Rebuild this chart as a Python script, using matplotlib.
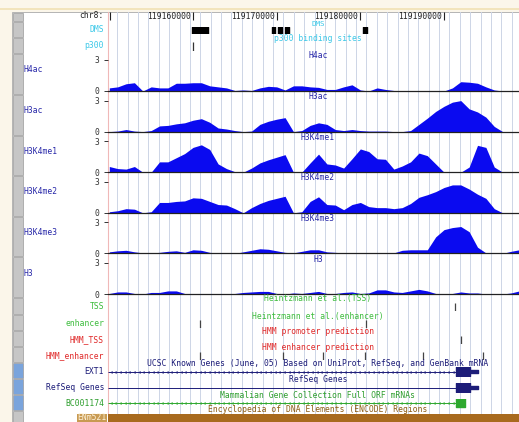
import numpy as np
import matplotlib
matplotlib.use('Agg')
import matplotlib.pyplot as plt
from matplotlib.patches import Rectangle

plt.rcParams['font.family'] = 'DejaVu Sans Mono'
plt.rcParams['font.size'] = 5.8

W, H = 519, 422
X0, X1 = 119149842, 119198957   # genome window shown in the browser

# signal bins every 1 kb, values on the 0-3 scale
pos = 119150000 + 1000 * np.arange(50)
h4ac = [0.3, 0.4, 0.7, 0.8, 0.0, 0.4, 0.3, 0.3, 0.75, 0.75,
        0.8, 0.8, 0.5, 0.4, 0.3, 0.05, 0.1, 0.05, 0.3, 0.45,
        0.4, 0.1, 0.5, 0.5, 0.4, 0.35, 0.15, 0.15, 0.4, 0.6,
        0.1, 0.0, 0.3, 0.15, 0.05, 0.0, 0.0, 0.0, 0.0, 0.0,
        0.0, 0.3, 0.9, 0.85, 0.75, 0.4, 0.1, 0.0, 0.0, 0.0]
h3ac = [0.0, 0.05, 0.2, 0.05, 0.0, 0.1, 0.55, 0.6, 0.75, 0.85,
        1.1, 1.25, 0.9, 0.35, 0.25, 0.1, 0.0, 0.05, 0.7, 1.0,
        1.2, 1.35, 0.0, 0.1, 0.6, 0.85, 0.7, 0.2, 0.1, 0.2,
        0.1, 0.05, 0.05, 0.05, 0.0, 0.0, 0.1, 0.7, 1.3, 1.95,
        2.45, 2.85, 3.0, 2.2, 1.9, 1.4, 0.5, 0.0, 0.0, 0.0]
h3k4me1 = [0.55, 0.35, 0.3, 0.55, 0.0, 0.0, 1.0, 1.0, 1.4, 1.8,
           2.4, 2.65, 2.2, 0.8, 0.35, 0.05, 0.0, 0.4, 0.9, 1.2,
           1.45, 1.7, 0.0, 0.0, 0.9, 1.75, 0.8, 0.7, 0.4, 1.3,
           2.25, 2.0, 1.3, 1.25, 0.3, 0.6, 1.0, 1.85, 1.6, 0.8,
           0.0, 0.0, 0.0, 0.5, 2.6, 2.4, 0.5, 0.0, 0.0, 0.0]
h3k4me2 = [0.1, 0.2, 0.4, 0.35, 0.0, 0.1, 1.0, 1.0, 1.1, 1.15,
           1.45, 1.4, 1.1, 0.8, 0.75, 0.4, 0.0, 0.5, 0.9, 1.2,
           1.4, 1.6, 0.0, 0.1, 1.1, 1.55, 0.8, 0.75, 0.3, 0.8,
           1.0, 0.6, 0.5, 0.5, 0.4, 0.5, 0.9, 1.5, 1.75, 2.05,
           2.45, 2.7, 2.7, 2.3, 1.8, 1.4, 0.4, 0.0, 0.0, 0.0]
h3k4me3 = [0.15, 0.25, 0.3, 0.15, 0.05, 0.05, 0.1, 0.2, 0.25, 0.1,
           0.35, 0.3, 0.1, 0.05, 0.0, 0.0, 0.15, 0.3, 0.45, 0.4,
           0.25, 0.1, 0.05, 0.2, 0.35, 0.35, 0.15, 0.1, 0.05, 0.05,
           0.0, 0.05, 0.05, 0.0, 0.05, 0.3, 0.35, 0.35, 0.35, 1.6,
           2.3, 2.5, 2.6, 2.1, 0.6, 0.05, 0.0, 0.0, 0.2, 0.35]
h3 = [0.05, 0.2, 0.2, 0.05, 0.0, 0.15, 0.15, 0.3, 0.3, 0.05,
      0.0, 0.05, 0.0, 0.0, 0.0, 0.05, 0.15, 0.2, 0.25, 0.25,
      0.05, 0.0, 0.1, 0.05, 0.15, 0.25, 0.05, 0.05, 0.15, 0.2,
      0.05, 0.1, 0.4, 0.4, 0.2, 0.15, 0.3, 0.45, 0.3, 0.05,
      0.0, 0.05, 0.2, 0.1, 0.1, 0.0, 0.0, 0.0, 0.1, 0.3]
signal_names = ['H4ac', 'H3ac', 'H3K4me1', 'H3K4me2', 'H3K4me3', 'H3']
signals = [h4ac, h3ac, h3k4me1, h3k4me2, h3k4me3, h3]

ruler_ticks = [119160000, 119170000, 119180000, 119190000]
dms = [(119159880, 119161793), (119169440, 119169800), (119170158, 119170636),
       (119170994, 119171472), (119180315, 119180793)]
p300 = [119160000]
tss = [119191309]
enhancer = [119160837, 119180673]
hmm_tss = [119192026]
hmm_enhancer = [119160837, 119170755, 119175535, 119180554, 119187485, 119194655]
ext1_cds = (119191429, 119193050)
ext1_utr = (119193050, 119194058)
bc_cds = (119191429, 119192480)

NAVY = '#1c1c78'
TRACK = '#2626a8'
CYAN = '#3cc8e8'
GREEN = '#3cbc3c'
RED = '#e02828'
BLUE = '#0a0af0'

fig = plt.figure(figsize=(W / 100, H / 100), dpi=100, facecolor='#fbf6ea')


def rect(x, y, w, h):
    return [x / W, 1 - (y + h) / H, w / W, h / H]


def ftext(x, y, s, **kw):
    fig.text(x / W, 1 - y / H, s, va='center', **kw)


def fbox(x, y, w, h, **kw):
    fig.patches.append(Rectangle((x / W, 1 - (y + h) / H), w / W, h / H,
                                 transform=fig.transFigure, zorder=-5, **kw))


def track_ax(y, h):
    ax = fig.add_axes(rect(108, y, 411, h))
    ax.set_xlim(X0, X1)
    ax.patch.set_alpha(0)
    for s in ax.spines.values():
        s.set_visible(False)
    ax.set_xticks([])
    ax.set_yticks([])
    return ax


# page frame and side buttons
fbox(0, 8.5, W, 1.5, fc='#f2e4bc', ec='none')
fbox(12, 11.5, W, H, fc='white', ec='#b4b4b4', lw=0.7)
btn_edges = [12, 21, 37, 53, 94, 135, 175, 216, 256, 297, 314, 330, 346, 362, 378, 394, 410, 422]
for j in range(len(btn_edges) - 1):
    y0, y1 = btn_edges[j], btn_edges[j + 1]
    fc = '#7aa4dc' if j in (13, 14, 15) else '#c6c6c6'
    fbox(13, y0 + 0.5, 10, y1 - y0 - 1, fc=fc, ec='#9a9a9a', lw=0.5)

# guideline background
bg = fig.add_axes(rect(108, 12, 411, 402))
bg.set_xlim(X0, X1)
bg.set_ylim(0, 1)
bg.set_xticks(np.arange(119150960, X1, 1240))
bg.set_yticks([])
bg.tick_params(length=0, labelbottom=False)
bg.grid(axis='x', color='#cdd5e6', lw=0.7)
bg.patch.set_alpha(0)
for s in ['top', 'right', 'bottom']:
    bg.spines[s].set_visible(False)
bg.spines['left'].set_color('#f0b8b8')
bg.spines['left'].set_linewidth(0.8)

# ruler
ax = track_ax(12, 9)
ax.set_ylim(0, 1)
ax.vlines([119150080] + ruler_ticks, 0.1, 1, color='#222222', lw=0.8)
for t in ruler_ticks:
    ax.annotate(str(t), (t, 0.5), xytext=(-1.5, 0), textcoords='offset points',
                ha='right', va='center', color='#222222')
ftext(104, 15, 'chr8:', ha='right', color='#222222')

# DMS
ax = track_ax(27, 7)
ax.set_ylim(0, 1)
ax.broken_barh([(a, b - a) for a, b in dms], (0, 1), color='black')
ftext(318, 23.5, 'DMS', ha='center', color=CYAN, fontsize=5.4)
ftext(104, 30, 'DMS', ha='right', color=CYAN)

# p300
ax = track_ax(42, 9)
ax.set_ylim(0, 1)
ax.vlines(p300, 0, 1, color='#333333', lw=0.9)
ftext(318, 38.5, 'p300 binding sites', ha='center', color=CYAN)
ftext(104, 46, 'p300', ha='right', color=CYAN)

# histone signal tracks
for i, (name, vals) in enumerate(zip(signal_names, signals)):
    base = 91 + 40.6 * i
    ax = fig.add_axes(rect(108, base - 31, 411, 31))
    ax.patch.set_alpha(0)
    ax.set_xlim(X0, X1)
    ax.set_ylim(0, 3)
    ax.fill_between(pos, 0, vals, color=BLUE, lw=0)
    ax.axhline(0, color='#222222', lw=0.9, clip_on=False)
    for s in ax.spines.values():
        s.set_visible(False)
    ax.set_xticks([])
    ax.set_yticks([0, 3])
    ax.set_yticklabels(['0', '3'])
    ax.tick_params(axis='y', length=3, pad=3, width=0.7, color='#333333',
                   labelcolor='#333333', labelsize=5.8)
    ax.text(0.511, 1 + 4 / 31, name, transform=ax.transAxes, ha='center', va='center',
            color=TRACK)
    ftext(24, base - 21, name, ha='left', color=TRACK)

# point annotation tracks
point_tracks = [
    ('TSS', tss, 303, 'Heintzmann et al.(TSS)', GREEN),
    ('enhancer', enhancer, 320, 'Heintzmann et al.(enhancer)', GREEN),
    ('HMM_TSS', hmm_tss, 336, 'HMM promoter prediction', RED),
    ('HMM_enhancer', hmm_enhancer, 352, 'HMM enhancer prediction', RED),
]
for name, xs, y, title, col in point_tracks:
    ax = track_ax(y, 8)
    ax.set_ylim(0, 1)
    ax.vlines(xs, 0, 1, color='#444444', lw=0.9)
    ftext(318, y - 4, title, ha='center', color=col)
    ftext(104, y + 3.5, name, ha='right', color=col)

# gene tracks
gene_tracks = [
    ('EXT1', 367, 'UCSC Known Genes (June, 05) Based on UniProt, RefSeq, and GenBank mRNA',
     NAVY, NAVY, True, ext1_cds, ext1_utr),
    ('RefSeq Genes', 383, 'RefSeq Genes', NAVY, NAVY, False, ext1_cds, ext1_utr),
    ('BC001174', 398.5, 'Mammalian Gene Collection Full ORF mRNAs', '#2e9e2e', '#2ea82e',
     True, bc_cds, None),
]
for name, y, title, tcol, gcol, arrows, cds, utr in gene_tracks:
    ax = track_ax(y, 9)
    ax.set_ylim(0, 1)
    ax.hlines(0.5, X0, cds[0], color=gcol, lw=0.7)
    if arrows:
        xs = np.arange(X0 + 300, cds[0] - 200, 560)
        ax.plot(xs, np.full(len(xs), 0.5), ls='none', marker='<', ms=1.6, mew=0.3,
                mfc='none', color=gcol)
    ax.broken_barh([(cds[0], cds[1] - cds[0])], (0.0, 1.0), color=gcol)
    if utr is not None:
        ax.broken_barh([(utr[0], utr[1] - utr[0])], (0.28, 0.44), color=gcol)
    ftext(318, y - 3.5, title, ha='center', color=tcol)
    ftext(104, y + 4.5, name, ha='right', color=tcol)

# ENCODE regions
ax = track_ax(414, 8)
ax.set_ylim(0, 1)
ax.axvspan(X0, X1, color='#a86a1e', lw=0)
ftext(318, 410, 'Encyclopedia of DNA Elements (ENCODE) Regions', ha='center', color='#8c5c14')
fbox(77, 414, 30, 8, fc='#c89a52', ec='none')
ftext(92, 418, 'ENm521', ha='center', color='#fff4dc')

fig.savefig('out.png', dpi=100, facecolor=fig.get_facecolor())
